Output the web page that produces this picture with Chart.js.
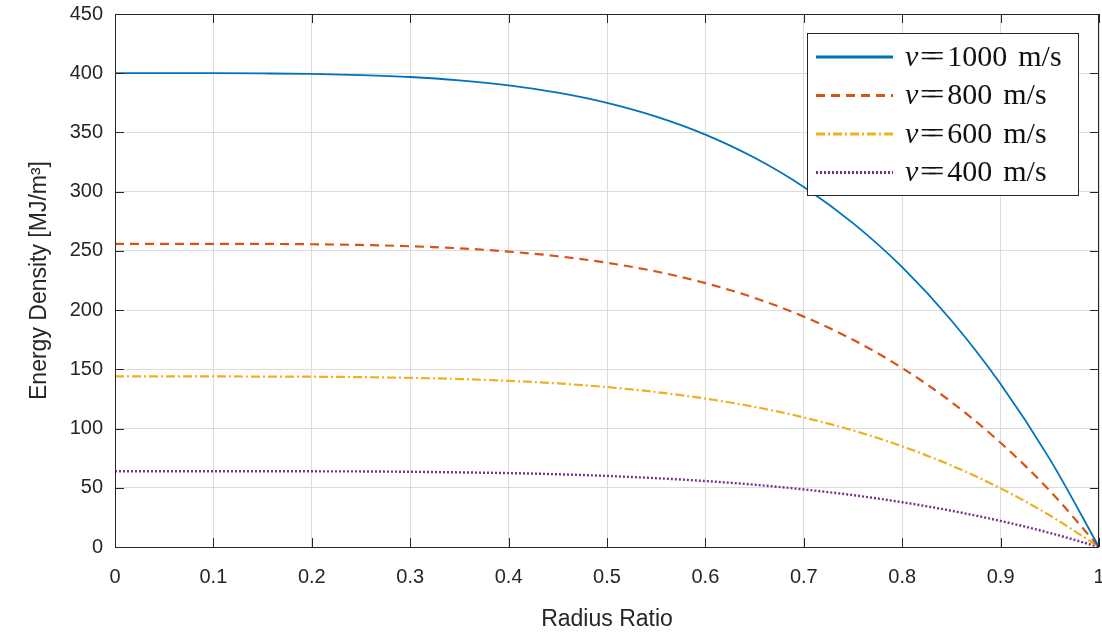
<!DOCTYPE html>
<html>
<head>
<meta charset="utf-8">
<script src="https://cdn.jsdelivr.net/npm/chart.js@4"></script>
<style>
  html, body { margin: 0; padding: 0; background: #fff; }
  #wrap { width: 1102px; height: 637px; }
</style>
</head>
<body>
<div id="wrap"><canvas id="energyChart" width="1102" height="637"></canvas></div>
<script>
// radius ratio samples
var radius = [0, 0.05, 0.1, 0.15, 0.2, 0.25, 0.3, 0.35, 0.4, 0.45, 0.5,
  0.55, 0.6, 0.65, 0.7, 0.75, 0.8, 0.85, 0.9, 0.95, 1];

// energy density [MJ/m^3] for each rim speed
var e1000 = [400, 400, 400, 399.8, 399.4, 398.4, 396.8, 394, 389.8, 383.6, 375,
  363.4, 348.2, 328.6, 304, 273.4, 236.2, 191.2, 137.6, 74.2, 0];
var e800 = [256, 256, 256, 255.9, 255.6, 255, 253.9, 252.2, 249.4, 245.5, 240,
  232.6, 222.8, 210.3, 194.5, 175, 151.1, 122.4, 88, 47.5, 0];
var e600 = [144, 144, 144, 143.9, 143.8, 143.4, 142.8, 141.8, 140.3, 138.1, 135,
  130.8, 125.3, 118.3, 109.4, 98.4, 85, 68.8, 49.5, 26.7, 0];
var e400 = [64, 64, 64, 64, 63.9, 63.8, 63.5, 63, 62.4, 61.4, 60,
  58.1, 55.7, 52.6, 48.6, 43.8, 37.8, 30.6, 22, 11.9, 0];

var speeds = ["1000", "800", "600", "400"];
var xTicks = [0, 0.1, 0.2, 0.3, 0.4, 0.5, 0.6, 0.7, 0.8, 0.9, 1];
var yTicks = [0, 50, 100, 150, 200, 250, 300, 350, 400, 450];

var colors = ["#0072BD", "#D95319", "#EDB120", "#7E2F8E"];
var dashes = [[], [9, 6], [9, 3, 2, 3], [2, 2]];
var widths = [1.8, 2.2, 2.2, 2.4];

function pts(ys) {
  return ys.map(function (y, i) { return { x: radius[i], y: y }; });
}

var series = [e1000, e800, e600, e400];
var datasets = series.map(function (s, i) {
  return {
    label: "v=" + speeds[i] + " m/s",
    data: pts(s),
    borderColor: colors[i],
    borderDash: dashes[i],
    borderWidth: widths[i],
    pointRadius: 0,
    fill: false,
    cubicInterpolationMode: "monotone"
  };
});

var axisColor = "#262626";

// box around the axes with inward tick marks on all four sides
var framePlugin = {
  id: "frame",
  afterDatasetsDraw: function (chart) {
    var ctx = chart.ctx, a = chart.chartArea;
    var xs = chart.scales.x, ys = chart.scales.y;
    ctx.save();
    ctx.strokeStyle = axisColor;
    ctx.lineWidth = 1;
    ctx.setLineDash([]);
    ctx.strokeRect(a.left + 0.5, a.top + 0.5, a.right - a.left - 1, a.bottom - a.top);
    ctx.beginPath();
    xTicks.forEach(function (t) {
      var px = Math.round(xs.getPixelForValue(t)) + 0.5;
      ctx.moveTo(px, a.bottom); ctx.lineTo(px, a.bottom - 9);
      ctx.moveTo(px, a.top); ctx.lineTo(px, a.top + 9);
    });
    yTicks.forEach(function (t) {
      var py = Math.round(ys.getPixelForValue(t)) + 0.5;
      ctx.moveTo(a.left, py); ctx.lineTo(a.left + 9, py);
      ctx.moveTo(a.right, py); ctx.lineTo(a.right - 9, py);
    });
    ctx.stroke();
    ctx.restore();
  }
};

// legend box in the upper right corner of the plot
var legendPlugin = {
  id: "boxLegend",
  afterDraw: function (chart) {
    var ctx = chart.ctx;
    var x0 = 807, y0 = 33, w = 271, h = 162;
    ctx.save();
    ctx.fillStyle = "#fff";
    ctx.fillRect(x0, y0, w, h);
    ctx.strokeStyle = axisColor;
    ctx.lineWidth = 1;
    ctx.strokeRect(x0 + 0.5, y0 + 0.5, w, h);
    chart.data.datasets.forEach(function (ds, i) {
      var cy = y0 + 24 + i * 38.5;
      ctx.strokeStyle = ds.borderColor;
      ctx.lineWidth = 3;
      ctx.setLineDash(ds.borderDash);
      ctx.beginPath();
      ctx.moveTo(x0 + 9, cy);
      ctx.lineTo(x0 + 86, cy);
      ctx.stroke();
      ctx.setLineDash([]);
      ctx.fillStyle = "#111";
      ctx.textBaseline = "middle";
      var tx = x0 + 98;
      ctx.font = "italic 30px 'Liberation Serif', serif";
      ctx.fillText("v", tx, cy + 1);
      tx += ctx.measureText("v").width + 2;
      // long equals sign: two overlapping glyphs
      ctx.font = "30px 'Liberation Serif', serif";
      ctx.fillText("=", tx, cy + 1);
      ctx.fillText("=", tx + 7, cy + 1);
      tx += ctx.measureText("=").width + 10;
      ctx.fillText(speeds[i], tx, cy + 1);
      tx += ctx.measureText(speeds[i]).width + 11;
      ctx.fillText("m/s", tx, cy + 1);
    });
    ctx.restore();
  }
};

var tickFont = { family: "'Liberation Sans', Arial, sans-serif", size: 20 };
var titleFont = { family: "'Liberation Sans', Arial, sans-serif", size: 23 };

new Chart(document.getElementById("energyChart"), {
  type: "line",
  data: { datasets: datasets },
  options: {
    responsive: false,
    animation: false,
    layout: { padding: { top: 14, right: 3, left: 0, bottom: 0 } },
    plugins: { legend: { display: false }, tooltip: { enabled: false } },
    scales: {
      x: {
        type: "linear",
        min: 0, max: 1,
        afterBuildTicks: function (s) { s.ticks = xTicks.map(function (v) { return { value: v }; }); },
        afterFit: function (s) { s.height = 90; s.paddingLeft = 0; s.paddingRight = 0; },
        grid: { color: "#dcdcdc", drawTicks: false },
        border: { display: false },
        ticks: {
          color: axisColor, font: tickFont, padding: 18, maxRotation: 0,
          callback: function (v) { return String(Math.round(v * 10) / 10); }
        },
        title: { display: true, text: "Radius Ratio", color: axisColor, font: titleFont, padding: { top: 8 } }
      },
      y: {
        min: 0, max: 450,
        afterBuildTicks: function (s) { s.ticks = yTicks.map(function (v) { return { value: v }; }); },
        afterFit: function (s) { s.width = 115; s.paddingTop = 0; s.paddingBottom = 0; },
        grid: { color: "#dcdcdc", drawTicks: false },
        border: { display: false },
        ticks: { color: axisColor, font: tickFont, padding: 12 },
        title: { display: true, text: "Energy Density [MJ/m³]", color: axisColor, font: titleFont, padding: { top: 26, bottom: 0 } }
      }
    }
  },
  plugins: [framePlugin, legendPlugin]
});
</script>
</body>
</html>
